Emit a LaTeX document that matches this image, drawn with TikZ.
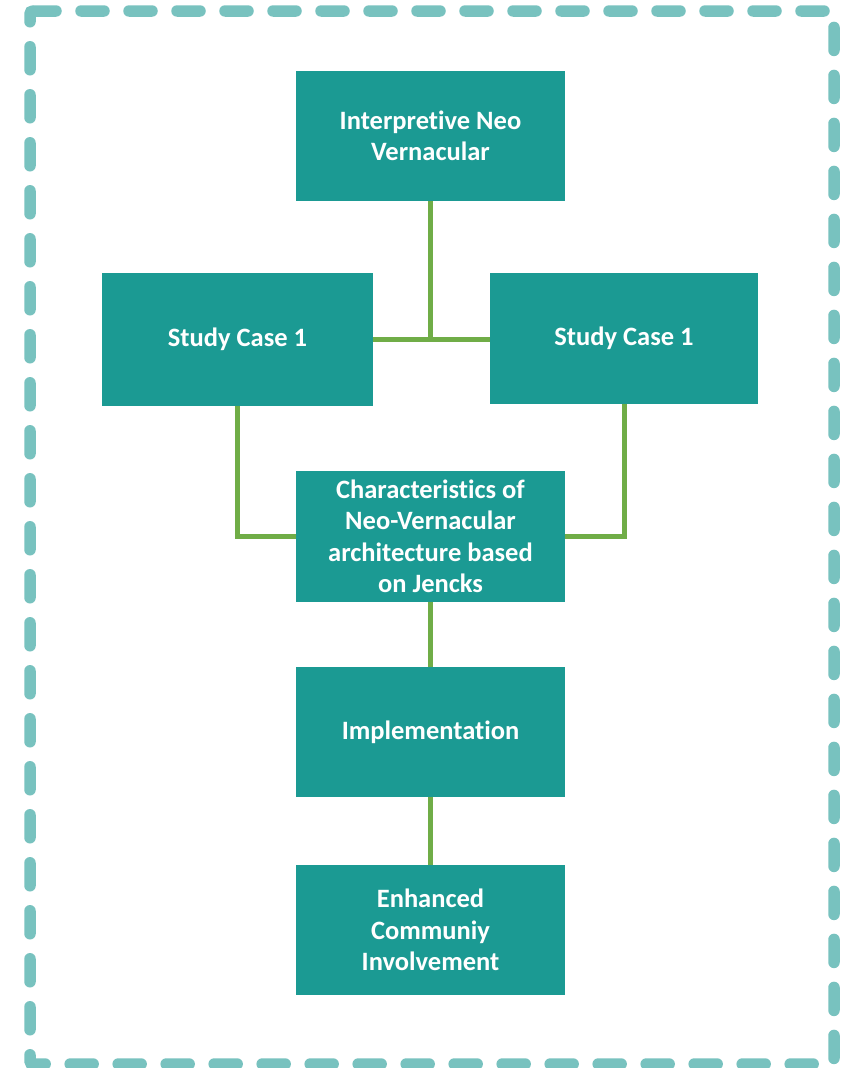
\documentclass[tikz,border=0pt]{standalone}
\usepackage{fontspec}
\setmainfont[Ligatures=NoCommon]{Carlito}
\definecolor{boxteal}{HTML}{1B9A93}
\definecolor{linkgreen}{HTML}{70AD47}
\definecolor{frameteal}{HTML}{78C2BF}
\begin{document}
\begin{tikzpicture}[x=1pt,y=-1pt,
  stepbox/.style={fill=boxteal, draw=none, text=white, font=\fontsize{26.5}{31.5}\selectfont\bfseries, align=center, inner sep=0pt},
  link/.style={draw=linkgreen, line width=5pt}]
\useasboundingbox (0,0) rectangle (848,1068);
\draw[frameteal, line width=11.5pt, line cap=round, rounded corners=3pt, dash pattern=on 23pt off 25pt]
  (30,11) -- (834,11) -- (834,1064) -- (30,1064) -- cycle;
\node[stepbox, minimum width=269pt, minimum height=130pt] (top) at (430.5,136) {Interpretive Neo\\Vernacular};
\node[stepbox, minimum width=271pt, minimum height=133pt] (left) at (237.5,339.5) {Study Case 1};
\node[stepbox, minimum width=268pt, minimum height=131pt] (right) at (624,338.5) {Study Case 1};
\node[stepbox, minimum width=269pt, minimum height=131pt] (char) at (430.5,536.5) {Characteristics of\\Neo-Vernacular\\architecture based\\on Jencks};
\node[stepbox, minimum width=269pt, minimum height=130pt] (impl) at (430.5,732) {Implementation};
\node[stepbox, minimum width=269pt, minimum height=130pt] (enh) at (430.5,930) {Enhanced\\Communiy\\Involvement};
\coordinate (mid) at (430,339);
\draw[link] (top.south -| mid) -- (mid);
\draw[link] (left.east |- mid) -- (right.west |- mid);
\draw[link] (left.south) |- (char.west);
\draw[link] (right.south) |- (char.east);
\draw[link] (char.south) -- (impl.north);
\draw[link] (impl.south) -- (enh.north);
\end{tikzpicture}
\end{document}
